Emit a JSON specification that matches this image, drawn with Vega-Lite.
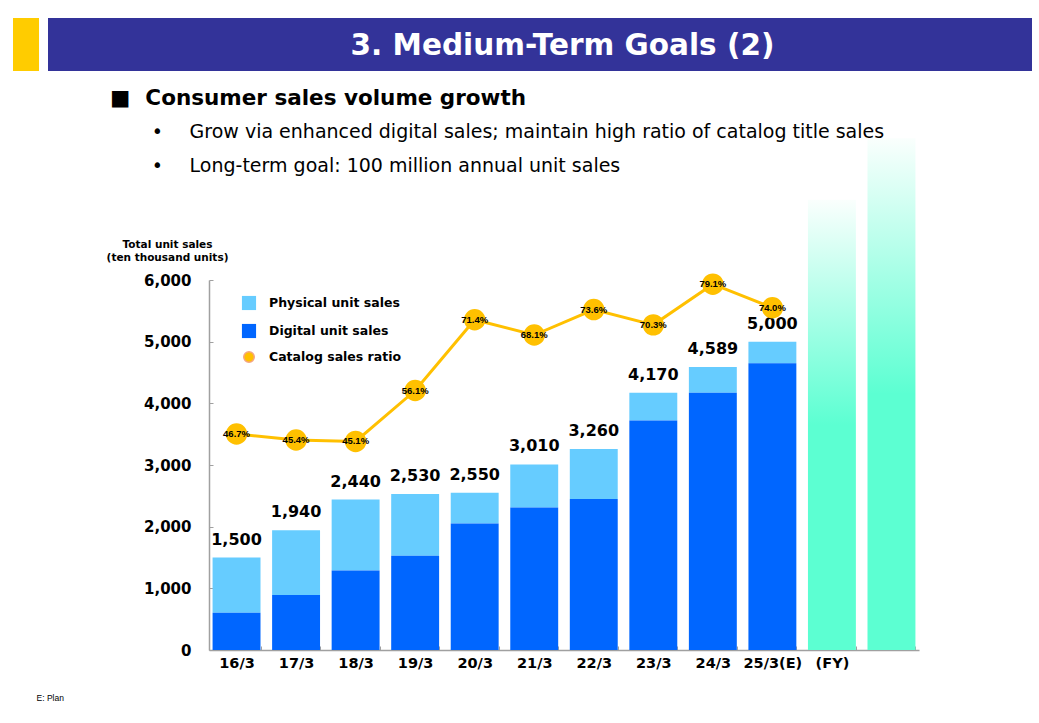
{
  "$schema": "https://vega.github.io/schema/vega-lite/v6.json",
  "background": "white",
  "padding": {"left": 13, "top": 18, "right": 0, "bottom": 0},
  "config": {"view": {"stroke": null}, "font": "DejaVu Sans"},
  "datasets": {
    "sales": [
      {"fy": "16/3", "Physical unit sales": 895, "Digital unit sales": 605, "total": 1500, "ratio": 46.7},
      {"fy": "17/3", "Physical unit sales": 1050, "Digital unit sales": 890, "total": 1940, "ratio": 45.4},
      {"fy": "18/3", "Physical unit sales": 1150, "Digital unit sales": 1290, "total": 2440, "ratio": 45.1},
      {"fy": "19/3", "Physical unit sales": 1000, "Digital unit sales": 1530, "total": 2530, "ratio": 56.1},
      {"fy": "20/3", "Physical unit sales": 500, "Digital unit sales": 2050, "total": 2550, "ratio": 71.4},
      {"fy": "21/3", "Physical unit sales": 700, "Digital unit sales": 2310, "total": 3010, "ratio": 68.1},
      {"fy": "22/3", "Physical unit sales": 810, "Digital unit sales": 2450, "total": 3260, "ratio": 73.6},
      {"fy": "23/3", "Physical unit sales": 450, "Digital unit sales": 3720, "total": 4170, "ratio": 70.3},
      {"fy": "24/3", "Physical unit sales": 419, "Digital unit sales": 4170, "total": 4589, "ratio": 79.1},
      {"fy": "25/3(E)", "Physical unit sales": 350, "Digital unit sales": 4650, "total": 5000, "ratio": 74.0}
    ],
    "future": [
      {"fy": "(FY)", "future": 7300},
      {"fy": "FY+", "future": 8300}
    ]
  },
  "columns": 3,
  "align": "each",
  "bounds": "flush",
  "spacing": {"row": 209, "column": 0},
  "concat": [
    {
      "width": 26,
      "height": 53,
      "view": {"fill": "#FFCC00", "stroke": null},
      "data": {"values": [{"t": ""}]},
      "mark": {"type": "text"},
      "encoding": {"text": {"field": "t"}}
    },
    {
      "width": 161,
      "height": 53,
      "view": {"fill": "#333399", "stroke": null},
      "data": {"values": [{"t": ""}]},
      "mark": {"type": "text"},
      "encoding": {"text": {"field": "t"}},
      "title": {
        "text": "■\u2002\u2009Consumer sales volume growth",
        "subtitle": [
          "\u200B\u2002\u2002\u2002\u2002\u2009•\u2002\u2002\u2009\u2009Grow via enhanced digital sales; maintain high ratio of catalog title sales",
          "\u200B\u2002\u2002\u2002\u2002\u2009•\u2002\u2002\u2009\u2009Long-term goal: 100 million annual unit sales"
        ],
        "orient": "bottom",
        "anchor": "start",
        "frame": "group",
        "dx": 62,
        "offset": 17,
        "font": "DejaVu Sans",
        "fontSize": 21.5,
        "fontWeight": "bold",
        "color": "#000000",
        "subtitleFont": "DejaVu Sans",
        "subtitleFontSize": 19,
        "subtitleFontWeight": "normal",
        "subtitleColor": "#000000",
        "subtitlePadding": 13,
        "subtitleLineHeight": 34
      }
    },
    {
      "width": 823,
      "height": 53,
      "view": {"fill": "#333399", "stroke": null},
      "data": {"values": [{"t": "3. Medium-Term Goals (2)"}]},
      "mark": {"type": "text", "color": "#FFFFFF", "font": "DejaVu Sans", "fontSize": 29.5, "fontWeight": "bold", "dx": -58, "dy": 1, "baseline": "middle", "align": "center"},
      "encoding": {"text": {"field": "t"}}
    },
    {
      "width": 35,
      "height": 370,
      "data": {"values": [{"t": ""}]},
      "mark": {"type": "text"},
      "encoding": {"text": {"field": "t"}}
    },
    {
      "width": 161,
      "height": 370,
      "data": {"values": [{"t": ""}]},
      "mark": {"type": "text"},
      "encoding": {"text": {"field": "t"}}
    },
    {
      "width": 710,
      "height": 370,
      "encoding": {
        "x": {
          "field": "fy",
          "type": "nominal",
          "sort": null,
          "scale": {
            "domain": ["16/3", "17/3", "18/3", "19/3", "20/3", "21/3", "22/3", "23/3", "24/3", "25/3(E)", "(FY)", "FY+"],
            "paddingInner": 0.195,
            "paddingOuter": 0.06
          },
          "axis": {
            "title": "E: Plan",
            "titleX": -173,
            "titleY": 47,
            "titleAlign": "left",
            "titleBaseline": "middle",
            "titleFont": "Liberation Sans",
            "titleFontSize": 8.5,
            "titleFontWeight": "normal",
            "titleColor": "#000000",
            "labelAngle": 0,
            "labelFont": "DejaVu Sans",
            "labelFontSize": 14.5,
            "labelFontWeight": "bold",
            "labelColor": "#000000",
            "labelPadding": 10,
            "labelOverlap": false,
            "labelExpr": "datum.value == 'FY+' ? '' : datum.value",
            "tickBand": "extent",
            "tickSize": -4,
            "tickColor": "#A0A0A0",
            "domainColor": "#A0A0A0",
            "domainWidth": 1.5,
            "grid": false
          }
        }
      },
      "layer": [
        {
          "data": {"name": "sales"},
          "transform": [{"fold": ["Physical unit sales", "Digital unit sales"], "as": ["series", "units"]}],
          "mark": {"type": "bar"},
          "encoding": {
            "y": {
              "field": "units",
              "type": "quantitative",
              "stack": "zero",
              "scale": {"domain": [0, 6000], "nice": false},
              "axis": {
                "orient": "left",
                "title": ["Total unit sales", "(ten thousand units)"],
                "titleAngle": 0,
                "titleX": -42,
                "titleY": -33,
                "titleAlign": "center",
                "titleBaseline": "alphabetic",
                "titleFont": "DejaVu Sans",
                "titleFontSize": 10.5,
                "titleFontWeight": "bold",
                "titleLineHeight": 13.5,
                "titleColor": "#000000",
                "values": [0, 1000, 2000, 3000, 4000, 5000, 6000],
                "format": ",.0f",
                "labelFont": "DejaVu Sans",
                "labelFontSize": 15,
                "labelFontWeight": "bold",
                "labelColor": "#000000",
                "labelPadding": 22,
                "tickSize": -4,
                "tickColor": "#A0A0A0",
                "domainColor": "#A0A0A0",
                "domainWidth": 1.5,
                "grid": false
              }
            },
            "color": {
              "field": "series",
              "type": "nominal",
              "scale": {
                "domain": ["Physical unit sales", "Digital unit sales", "Catalog sales ratio"],
                "range": ["#66CCFF", "#0066FF", "#FFC000"]
              },
              "legend": {
                "orient": "none",
                "legendX": 228,
                "legendY": 277,
                "title": null,
                "symbolType": "square",
                "symbolSize": 200,
                "labelFont": "DejaVu Sans",
                "labelFontSize": 12.5,
                "labelFontWeight": "bold",
                "labelColor": "#000000",
                "labelOffset": 12,
                "rowPadding": 6,
                "encode": {
                  "symbols": {
                    "update": {
                      "shape": {"signal": "datum.label === 'Catalog sales ratio' ? 'circle' : 'square'"},
                      "size": {"signal": "datum.label === 'Catalog sales ratio' ? 110 : 200"},
                      "fill": {"signal": "datum.label === 'Digital unit sales' ? '#0070C0' : datum.label === 'Physical unit sales' ? '#66CCFF' : '#FFC000'"},
                      "stroke": {"signal": "datum.label === 'Catalog sales ratio' ? '#F4A582' : 'transparent'"},
                      "strokeWidth": {"value": 1.5},
                      "opacity": {"value": 1}
                    }
                  }
                }
              }
            },
            "order": {"field": "series", "sort": "ascending"}
          }
        },
        {
          "data": {"name": "sales"},
          "mark": {"type": "text", "baseline": "alphabetic", "dy": -13, "font": "DejaVu Sans", "fontSize": 16, "fontWeight": "bold", "color": "#000000"},
          "encoding": {
            "y": {"field": "total", "type": "quantitative", "scale": {"domain": [0, 6000], "nice": false}, "axis": null},
            "text": {"field": "total", "type": "quantitative", "format": ","}
          }
        },
        {
          "data": {"name": "future"},
          "mark": {
            "type": "bar",
            "color": {
              "gradient": "linear",
              "x1": 0, "y1": 0, "x2": 0, "y2": 1,
              "stops": [
                {"offset": 0, "color": "#FAFFFD"},
                {"offset": 0.5, "color": "#5CFFD2"},
                {"offset": 1, "color": "#5CFFD2"}
              ]
            }
          },
          "encoding": {
            "y": {"field": "future", "type": "quantitative", "scale": {"domain": [0, 6000], "nice": false}, "axis": null}
          }
        },
        {
          "data": {"name": "sales"},
          "mark": {"type": "line", "color": "#FFC000", "strokeWidth": 3},
          "encoding": {
            "y": {"field": "ratio", "type": "quantitative", "scale": {"domain": [0, 80], "nice": false}, "axis": null}
          }
        },
        {
          "data": {"name": "sales"},
          "mark": {"type": "point", "filled": true, "color": "#FFC000", "size": 460, "opacity": 1},
          "encoding": {
            "y": {"field": "ratio", "type": "quantitative", "scale": {"domain": [0, 80], "nice": false}, "axis": null}
          }
        },
        {
          "data": {"name": "sales"},
          "mark": {"type": "text", "font": "Liberation Sans", "fontSize": 9.5, "fontWeight": "bold", "color": "#000000", "baseline": "middle", "text": {"expr": "format(datum.ratio, '.1f') + '%'"}},
          "encoding": {
            "y": {"field": "ratio", "type": "quantitative", "scale": {"domain": [0, 80], "nice": false}, "axis": null}
          }
        }
      ],
      "resolve": {"scale": {"y": "independent"}}
    }
  ]
}
